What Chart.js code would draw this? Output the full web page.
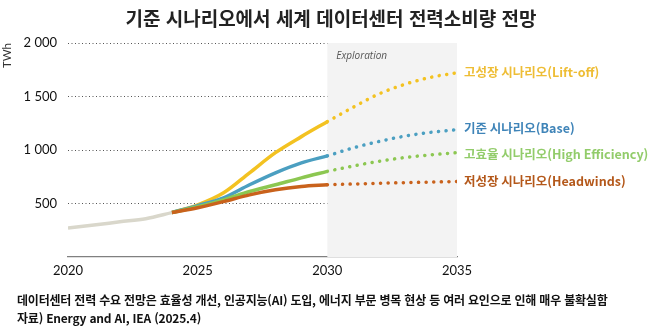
<!DOCTYPE html>
<html lang="ko">
<head>
<meta charset="utf-8">
<script src="https://cdn.jsdelivr.net/npm/chart.js@4.4.1/dist/chart.umd.min.js"></script>
<style>
  html, body { margin: 0; padding: 0; background: #fff; }
  body { width: 658px; height: 331px; position: relative; overflow: hidden; font-family: "Noto Sans CJK KR", "Noto Sans", sans-serif; }
  #wrap { position: absolute; left: 0; top: 0; width: 658px; height: 331px; }
  .title { position: absolute; left: 0; width: 662px; top: 4px; text-align: center; font-size: 19px; font-weight: 700; color: #222; }
  .note { position: absolute; left: 17px; font-size: 12px; font-weight: 700; color: #111; letter-spacing: -0.2px; }
</style>
</head>
<body>
<div id="wrap"><canvas id="demandChart" width="658" height="331"></canvas></div>
<div class="title">기준 시나리오에서 세계 데이터센터 전력소비량 전망</div>
<div class="note" style="top:291px">데이터센터 전력 수요 전망은 효율성 개선, 인공지능(AI) 도입, 에너지 부문 병목 현상 등 여러 요인으로 인해 매우 불확실함</div>
<div class="note" style="top:309px">자료) Energy and AI, IEA (2025.4)</div>
<script>
// --- data (TWh) ---
const histYears = [2020, 2021, 2022, 2023, 2024];
const histValues = [272, 299, 329, 358, 415];

const nearYears = [2024, 2025, 2026, 2027, 2028, 2029, 2030];
const liftoffNear = [415, 487, 600, 787, 975, 1125, 1265];
const baseNear = [415, 480, 553, 675, 787, 880, 945];
const efficiencyNear = [415, 470, 534, 612, 675, 740, 800];
const headwindsNear = [415, 460, 518, 581, 628, 659, 675];

const farYears = [2030, 2031, 2032, 2033, 2034, 2035];
const liftoffFar = [1265, 1400, 1525, 1615, 1680, 1722];
const baseFar = [945, 1020, 1080, 1130, 1165, 1190];
const efficiencyFar = [800, 850, 895, 930, 955, 975];
const headwindsFar = [675, 682, 689, 695, 700, 706];

const yTicks = [0, 500, 1000, 1500, 2000];
const scenarioLabels = ['고성장 시나리오(Lift-off)', '기준 시나리오(Base)', '고효율 시나리오(High Efficiency)', '저성장 시나리오(Headwinds)'];

const colors = {
    hist: '#d9d7cb',
    liftoff: '#f3c221',
    base: '#4b9fc1',
    efficiency: '#8cc751',
    headwinds: '#c9621c'
};
const labelColors = ['#eebd35', '#3f84b8', '#92cc6a', '#b4581a'];
const labelYOffset = [0, -1, 2, 0];

function pts(xs, ys) {
    return xs.map((x, i) => ({ x: x, y: ys[i] }));
}

function solid(data, color) {
    return { data: data, borderColor: color, borderWidth: 3.5, pointRadius: 0, cubicInterpolationMode: 'monotone', fill: false };
}
function dotted(data, color) {
    return { data: data, borderColor: color, borderWidth: 3.5, borderDash: [0.1, 7.5], borderCapStyle: 'round', pointRadius: 0, cubicInterpolationMode: 'monotone', fill: false };
}

// shaded "Exploration" band 2030-2035
const explorationBand = {
    id: 'explorationBand',
    beforeDatasetsDraw(chart) {
        const { ctx, chartArea, scales } = chart;
        const x0 = scales.x.getPixelForValue(2030);
        const x1 = scales.x.getPixelForValue(2035);
        ctx.save();
        ctx.fillStyle = '#f3f3f3';
        ctx.fillRect(x0, chartArea.top, x1 - x0, chartArea.bottom - chartArea.top);
        ctx.fillStyle = '#555';
        ctx.font = 'italic 10px "Open Sans", sans-serif';
        ctx.textBaseline = 'middle';
        ctx.fillText('Exploration', x0 + 9, chartArea.top + 13);
        ctx.restore();
    }
};

// scenario labels at end of dotted lines
const endLabels = {
    id: 'endLabels',
    afterDatasetsDraw(chart) {
        const { ctx } = chart;
        ctx.save();
        ctx.font = 'bold 12.5px "Noto Sans CJK KR", sans-serif';
        ctx.textBaseline = 'middle';
        for (let i = 0; i < 4; i++) {
            const meta = chart.getDatasetMeta(5 + i);
            const last = meta.data[meta.data.length - 1];
            ctx.fillStyle = labelColors[i];
            ctx.fillText(scenarioLabels[i], last.x + 7, last.y + labelYOffset[i]);
        }
        ctx.restore();
    }
};

const ctx = document.getElementById('demandChart');
new Chart(ctx, {
    type: 'line',
    data: {
        datasets: [
            solid(pts(histYears, histValues), colors.hist),
            solid(pts(nearYears, headwindsNear), colors.headwinds),
            solid(pts(nearYears, efficiencyNear), colors.efficiency),
            solid(pts(nearYears, baseNear), colors.base),
            solid(pts(nearYears, liftoffNear), colors.liftoff),
            dotted(pts(farYears, liftoffFar), colors.liftoff),
            dotted(pts(farYears, baseFar), colors.base),
            dotted(pts(farYears, efficiencyFar), colors.efficiency),
            dotted(pts(farYears, headwindsFar), colors.headwinds)
        ]
    },
    options: {
        responsive: false,
        animation: false,
        layout: { padding: { left: 0, top: 43, right: 201, bottom: 0 } },
        plugins: { legend: { display: false }, tooltip: { enabled: false } },
        scales: {
            x: {
                type: 'linear', min: 2020, max: 2035,
                afterFit(scale) { scale.height = 74; },
                grid: { display: false, drawTicks: false },
                border: { display: true, color: '#808080', width: 1.2 },
                ticks: { stepSize: 5, padding: 6, maxRotation: 0, color: '#111', font: { family: 'Lato, sans-serif', size: 13 }, callback: v => String(v) }
            },
            y: {
                min: 0, max: 2000,
                afterFit(scale) { scale.width = 68; },
                afterBuildTicks(scale) { scale.ticks = yTicks.map(v => ({ value: v })); },
                grid: {
                    color: c => c.tick.value === 0 ? 'rgba(0,0,0,0)' : '#555',
                    lineWidth: 1, drawTicks: false
                },
                border: { display: false, dash: [1, 2.5] },
                ticks: {
                    padding: 11, color: '#111', font: { family: 'Lato, sans-serif', size: 13 },
                    callback: v => v === 0 ? '' : String(v).replace(/\B(?=(\d{3})+(?!\d))/g, ' ')
                },
                title: { display: true, text: 'TWh', align: 'end', color: '#333', font: { family: 'Lato, sans-serif', size: 11.5 }, padding: { top: 0, bottom: 0 } }
            }
        }
    },
    plugins: [explorationBand, endLabels]
});
</script>
</body>
</html>
